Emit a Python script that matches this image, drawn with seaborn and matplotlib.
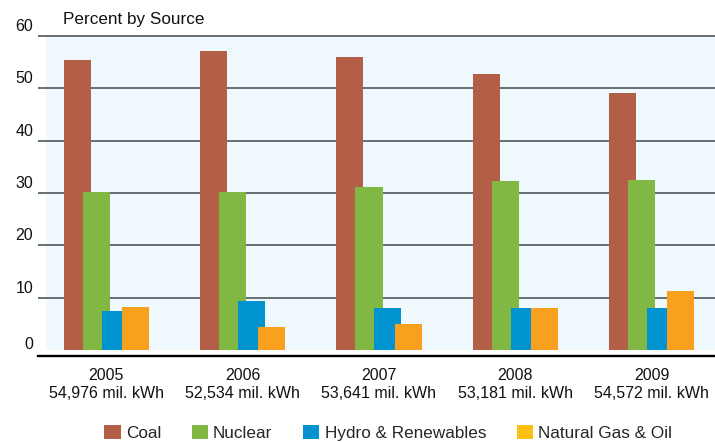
import matplotlib
matplotlib.use('Agg')
import matplotlib.pyplot as plt
import matplotlib.transforms as mtransforms
from matplotlib.patches import Patch
import seaborn as sns
import numpy as np
import pandas as pd

# data
years = [2005, 2006, 2007, 2008, 2009]
totals = ['54,976', '52,534', '53,641', '53,181', '54,572']
sources = ['Coal', 'Nuclear', 'Hydro & Renewables', 'Natural Gas & Oil']
coal = [55.4, 57.1, 56.0, 52.7, 49.1]
nuclear = [30.2, 30.2, 31.1, 32.3, 32.5]
hydro = [7.45, 9.4, 8.0, 8.0, 8.0]
gas = [8.2, 4.4, 5.0, 8.0, 11.3]

bar_colors = ['#B35F48', '#80B843', '#0093D0', '#F9A11E']
legend_colors = ['#B35F48', '#80B843', '#0093D0', '#FDC010']
offsets = [-0.213, -0.073, 0.066, 0.213]   # overlapping bars, as in the original
bar_width = 0.198

sns.set_theme(style='white')
plt.rcParams['font.family'] = ['Liberation Sans', 'DejaVu Sans']

fig = plt.figure(figsize=(7.15, 4.42), dpi=100)
ax = fig.add_axes([38 / 715, 1 - 356 / 442, 1 - 38 / 715, (356 - 34.5) / 442])

for vals, col, off in zip([coal, nuclear, hydro, gas], bar_colors, offsets):
    d = pd.DataFrame({'x': np.array(years) + off, 'y': vals})
    sns.barplot(data=d, x='x', y='y', native_scale=True, width=bar_width,
                color=col, saturation=1, errorbar=None, linewidth=0, ax=ax)

ax.set_xlim(2004.5, 2009.464)
ax.set_ylim(-1.15, 60.3)

# light blue plot background (starts a bit right of the gridlines)
ylo, yhi = ax.get_ylim()
ax.axvspan(2004.559, 2009.464, ymin=(0 - ylo) / (yhi - ylo), ymax=(60 - ylo) / (yhi - ylo),
           color='#EEF8FD', zorder=0.1, lw=0)

ax.set_yticks(range(0, 61, 10))
ax.set_xticks(years)
ax.set_xticklabels([f'{y}\n{t} mil. kWh' for y, t in zip(years, totals)], fontsize=11.5,
                   linespacing=1.25)
ax.tick_params(axis='x', length=0, pad=9, colors='#111111')
ax.tick_params(axis='y', length=0, pad=3.5, labelsize=11.5, colors='#111111')
ax.set_xlabel('')
ax.set_ylabel('')

for i, lab in enumerate(ax.get_yticklabels()):
    dy = 0.07 if i == 0 else 0.11
    lab.set_transform(lab.get_transform() + mtransforms.ScaledTranslation(0, dy, fig.dpi_scale_trans))

ax.set_axisbelow(True)
ax.yaxis.grid(True, color='#4E5658', linewidth=1.2)
ax.get_ygridlines()[0].set_visible(False)   # no gridline at 0, only the baseline
ax.xaxis.grid(False)
ax.set_facecolor('white')
for s in ['top', 'right', 'left']:
    ax.spines[s].set_visible(False)
ax.spines['bottom'].set_color('black')
ax.spines['bottom'].set_linewidth(1.7)

fig.text(63 / 715, 1 - 24 / 442, 'Percent by Source', fontsize=12.3, va='baseline',
         ha='left', color='#111111')

handles = [Patch(facecolor=c, edgecolor='none') for c in legend_colors]
fig.legend(handles, sources, loc='center', bbox_to_anchor=(0.543, 1 - 433 / 442),
           ncol=4, frameon=False, fontsize=12.3, handlelength=0.95, handleheight=0.9,
           handletextpad=0.3, columnspacing=1.8, borderpad=0)

fig.savefig('out.png', dpi=100)
